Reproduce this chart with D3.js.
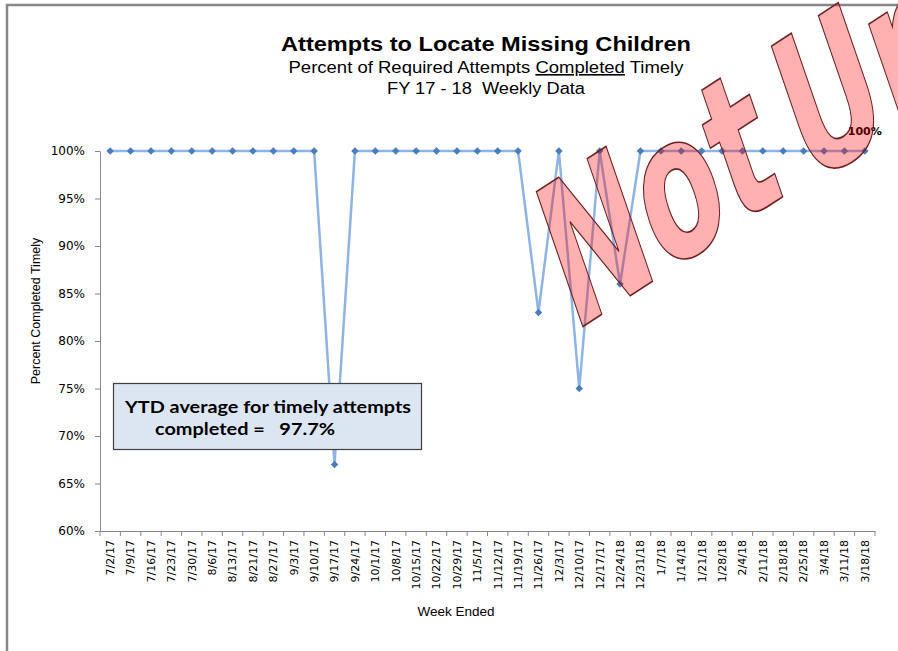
<!DOCTYPE html>
<html>
<head>
<meta charset="utf-8">
<script src="https://cdn.jsdelivr.net/npm/d3@7"></script>
<style>
  body { margin: 0; background: #fff; }
  svg { display: block; }
  .tick text { fill: #000; }
</style>
</head>
<body>
<div id="chart"></div>
<script>
var weeks = ['7/2/17', '7/9/17', '7/16/17', '7/23/17', '7/30/17', '8/6/17', '8/13/17', '8/21/17',
    '8/27/17', '9/3/17', '9/10/17', '9/17/17', '9/24/17', '10/1/17', '10/8/17', '10/15/17',
    '10/22/17', '10/29/17', '11/5/17', '11/12/17', '11/19/17', '11/26/17', '12/3/17', '12/10/17',
    '12/17/17', '12/24/18', '12/31/18', '1/7/18', '1/14/18', '1/21/18', '1/28/18', '2/4/18',
    '2/11/18', '2/18/18', '2/25/18', '3/4/18', '3/11/18', '3/18/18']

var pctTimely = [1, 1, 1, 1, 1, 1, 1, 1, 1, 1, 1, 0.67, 1, 1, 1, 1, 1, 1, 1, 1, 1, 0.83, 1, 0.75,
    1, 0.86, 1, 1, 1, 1, 1, 1, 1, 1, 1, 1, 1, 1]

var yTicks = [0.6, 0.65, 0.7, 0.75, 0.8, 0.85, 0.9, 0.95, 1]
var ytdAverage = '97.7%'

var W = 898, H = 651

var svg = d3.select('#chart').append('svg')
    .attr('width', W).attr('height', H)

// chart frame
svg.append('rect')
    .attr('x', 7).attr('y', 5)
    .attr('width', 1000).attr('height', 1000)
    .attr('fill', '#fff')
    .attr('stroke', '#878787').attr('stroke-width', 2.5)

var x = d3.scaleBand().domain(weeks).range([100, 875])
var y = d3.scaleLinear().domain([0.6, 1]).range([531, 151])

// titles
var titles = svg.append('g').attr('font-family', 'Liberation Sans, Arial, sans-serif')
    .attr('text-anchor', 'middle')

titles.append('text')
    .attr('x', 486).attr('y', 51)
    .attr('font-size', 21).attr('font-weight', 'bold')
    .attr('textLength', 410).attr('lengthAdjust', 'spacingAndGlyphs')
    .text('Attempts to Locate Missing Children')

var sub = titles.append('text')
    .attr('x', 486).attr('y', 73)
    .attr('font-size', 16)
    .attr('textLength', 395).attr('lengthAdjust', 'spacingAndGlyphs')
sub.append('tspan').text('Percent of Required Attempts ')
sub.append('tspan').attr('text-decoration', 'underline').text('Completed')
sub.append('tspan').text(' Timely')

titles.append('text')
    .attr('x', 486).attr('y', 94)
    .attr('font-size', 16)
    .attr('textLength', 198).attr('lengthAdjust', 'spacingAndGlyphs')
    .attr('xml:space', 'preserve')
    .text('FY 17 - 18  Weekly Data')

// axes
var yAxis = svg.append('g')
    .attr('transform', 'translate(100,0)')
    .call(d3.axisLeft(y).tickValues(yTicks).tickFormat(d3.format('.0%'))
        .tickSize(5).tickSizeOuter(0).tickPadding(10))

yAxis.selectAll('text').attr('font-family', 'DejaVu Sans, sans-serif').attr('font-size', 12)

var xAxis = svg.append('g')
    .attr('transform', 'translate(0,531)')
    .call(d3.axisBottom(x).tickSize(0).tickSizeOuter(0))

xAxis.selectAll('text')
    .attr('font-family', 'DejaVu Sans, sans-serif').attr('font-size', 11)
    .attr('transform', 'rotate(-90)')
    .attr('text-anchor', 'end')
    .attr('x', -9).attr('y', 0).attr('dy', '0.35em')

// category boundary ticks
xAxis.selectAll('.bound')
    .data(weeks.concat(['end']))
    .enter().append('line')
    .attr('class', 'bound')
    .attr('x1', (d, i) => 100 + i * x.step())
    .attr('x2', (d, i) => 100 + i * x.step())
    .attr('y1', 0).attr('y2', 5)

svg.selectAll('.domain, .tick line, .bound')
    .attr('stroke', '#878787')

svg.append('text')
    .attr('transform', 'translate(40,311) rotate(-90)')
    .attr('text-anchor', 'middle')
    .attr('font-family', 'Liberation Sans, Arial, sans-serif').attr('font-size', 12.5)
    .text('Percent Completed Timely')

svg.append('text')
    .attr('x', 456).attr('y', 616)
    .attr('text-anchor', 'middle')
    .attr('font-family', 'Liberation Sans, Arial, sans-serif').attr('font-size', 13.5)
    .text('Week Ended')

// series
var cx = d => x(d) + x.bandwidth() / 2

var line = d3.line()
    .x((d, i) => cx(weeks[i]))
    .y(d => y(d))

svg.append('path')
    .datum(pctTimely)
    .attr('d', line)
    .attr('fill', 'none')
    .attr('stroke', '#8EB4E3').attr('stroke-width', 2.5)

svg.selectAll('.pt')
    .data(pctTimely)
    .enter().append('path')
    .attr('class', 'pt')
    .attr('d', d3.symbol(d3.symbolSquare).size(28))
    .attr('transform', (d, i) => 'translate(' + cx(weeks[i]) + ',' + y(d) + ') rotate(45)')
    .attr('fill', '#4A7EBB')

var last = pctTimely.length - 1
svg.append('text')
    .attr('x', cx(weeks[last])).attr('y', y(pctTimely[last]) - 16)
    .attr('text-anchor', 'middle')
    .attr('font-family', 'DejaVu Sans, sans-serif').attr('font-size', 11).attr('font-weight', 'bold')
    .text(d3.format('.0%')(pctTimely[last]))

// YTD box
var box = svg.append('g')
box.append('rect')
    .attr('x', 113.5).attr('y', 383.5)
    .attr('width', 308).attr('height', 66)
    .attr('fill', '#DCE6F2')
    .attr('stroke', '#3F3F3F').attr('stroke-width', 1.2)

box.append('text')
    .attr('x', 125).attr('y', 413)
    .attr('font-family', 'Lato, sans-serif').attr('font-weight', 'bold').attr('font-size', 17)
    .attr('textLength', 286).attr('lengthAdjust', 'spacingAndGlyphs')
    .text('YTD average for timely attempts')

box.append('text')
    .attr('x', 155).attr('y', 435)
    .attr('font-family', 'Lato, sans-serif').attr('font-weight', 'bold').attr('font-size', 17)
    .attr('textLength', 180).attr('lengthAdjust', 'spacingAndGlyphs')
    .attr('xml:space', 'preserve')
    .text('completed =   ' + ytdAverage)

// draft stamp
var stamp = svg.append('text')
    .attr('transform', 'translate(573,333) rotate(-33) skewX(-14) scale(0.67,1)')
    .attr('font-family', 'DejaVu Sans, sans-serif').attr('font-weight', 'bold').attr('font-size', 190)
    .attr('fill', '#FF0000').attr('fill-opacity', 0.31)
    .attr('stroke', '#6B1F1F').attr('stroke-width', 1.6)
    .attr('vector-effect', 'non-scaling-stroke')
stamp.append('tspan').text('Not ')
stamp.append('tspan').attr('dx', -32).attr('dy', 6).text('Updated')
</script>
</body>
</html>
